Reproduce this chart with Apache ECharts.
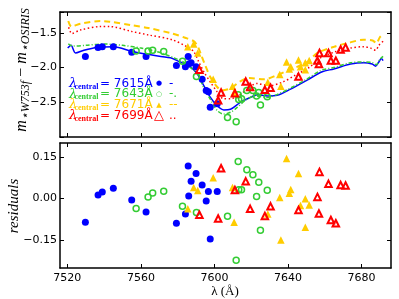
<!DOCTYPE html>
<html><head><meta charset="utf-8">
<script src="https://cdn.jsdelivr.net/npm/echarts@6/dist/echarts.min.js"></script>
<style>html,body{margin:0;padding:0;background:#fff}#c{width:399px;height:299px}</style>
</head><body><div id="c"></div>
<script>
// ---- data ----
const xTicks = [7520, 7560, 7600, 7640, 7680];
const yTicksTop = [-2.5, -2.0, -1.5];
const yTicksRes = [-0.15, 0, 0.15];
const legendLabels = ['7615Å', '7643Å', '7671Å', '7699Å'];

const lam615 = [7529.8, 7536.7, 7539.0, 7545.0, 7555.0, 7562.8, 7579.3, 7584.2, 7585.7, 7586.0, 7587.3, 7590.0, 7593.3, 7595.5, 7596.7, 7597.7, 7601.5];
const mag615 = [-1.84, -1.71, -1.70, -1.70, -1.78, -1.84, -1.97, -1.99, -1.84, -1.95, -1.93, -1.99, -2.17, -2.33, -2.35, -2.57, -2.52];
const res615 = [-0.085, 0.013, 0.024, 0.037, -0.005, -0.048, -0.089, -0.056, 0.117, 0.009, 0.062, 0.090, 0.049, -0.009, 0.025, -0.146, 0.025];

const lam643 = [7557.4, 7563.9, 7566.4, 7572.4, 7582.6, 7590.2, 7607.1, 7611.8, 7612.9, 7613.2, 7614.7, 7617.6, 7620.9, 7622.9, 7624.1, 7625.0, 7628.7];
const mag643 = [-1.76, -1.76, -1.75, -1.77, -1.91, -2.13, -2.72, -2.78, -2.39, -2.46, -2.45, -2.33, -2.33, -2.41, -2.36, -2.54, -2.42];
const res643 = [-0.036, 0.006, 0.020, 0.026, -0.028, -0.050, -0.064, -0.222, 0.133, 0.032, 0.032, 0.104, 0.086, 0.007, 0.059, -0.114, 0.030];

const lam671 = [7585.5, 7588.7, 7590.9, 7599.3, 7609.8, 7610.7, 7629.0, 7635.5, 7636.1, 7639.2, 7640.7, 7641.5, 7645.7, 7646.8, 7649.4, 7649.4, 7651.5];
const mag671 = [-1.70, -1.66, -1.79, -2.17, -2.27, -2.36, -2.21, -2.10, -2.27, -1.92, -2.02, -1.99, -1.89, -1.99, -1.93, -2.03, -1.90];
const res671 = [-0.037, 0.040, 0.029, 0.075, 0.040, -0.085, -0.056, 0.004, -0.149, 0.144, 0.019, 0.033, 0.090, -0.025, -0.001, -0.103, -0.023];

const lam699 = [7591.8, 7602.0, 7603.6, 7611.1, 7617.0, 7619.4, 7627.4, 7630.5, 7645.7, 7656.0, 7656.8, 7657.1, 7662.0, 7663.3, 7666.0, 7668.6, 7671.3];
const mag699 = [-2.03, -2.47, -2.36, -2.37, -2.20, -2.28, -2.32, -2.29, -2.13, -1.90, -1.95, -1.79, -1.79, -1.90, -1.90, -1.74, -1.71];
const res699 = [-0.058, -0.072, 0.109, 0.031, 0.062, -0.037, -0.063, -0.028, -0.041, 0.006, -0.054, 0.096, 0.053, -0.077, -0.089, 0.049, 0.047];

// model curves
const lineLam615 = [7520.2, 7522.0, 7524.4, 7529, 7536.2, 7545.2, 7555.2, 7563.4, 7576.1, 7579.7, 7586.9, 7590.6, 7594.2, 7597.8, 7601.5, 7605.1, 7608.7, 7614.1, 7619.6, 7623.2, 7628.7, 7634.1, 7641.4, 7650.4, 7658.6, 7664.9, 7674.0, 7681.3, 7685.8, 7687.6, 7689.4, 7690.7, 7691.7];
const lineMag615 = [-1.72, -1.68, -1.79, -1.75, -1.71, -1.70, -1.77, -1.81, -1.86, -1.90, -1.99, -2.09, -2.26, -2.43, -2.55, -2.61, -2.60, -2.50, -2.43, -2.39, -2.41, -2.40, -2.31, -2.18, -2.06, -2.02, -1.95, -1.93, -1.95, -1.98, -1.92, -1.87, -1.90];

const lineLam643 = [7520.5, 7523, 7530, 7540, 7550, 7560, 7570, 7578, 7583, 7587, 7591, 7594, 7598, 7601.5, 7605, 7609, 7612.5, 7617, 7622, 7628.7, 7634, 7641, 7650, 7658, 7665, 7674, 7681, 7686, 7688, 7690, 7691.7];
const lineMag643 = [-1.66, -1.69, -1.68, -1.66, -1.68, -1.72, -1.78, -1.86, -1.92, -2.00, -2.10, -2.28, -2.47, -2.62, -2.67, -2.64, -2.57, -2.47, -2.41, -2.43, -2.39, -2.30, -2.17, -2.04, -2.00, -1.93, -1.92, -1.93, -1.96, -1.88, -1.84];

const lineLam671 = [7520.5, 7522.2, 7527, 7538, 7543, 7555, 7564, 7577, 7584, 7588.7, 7591, 7592.5, 7595, 7597.8, 7601.5, 7604, 7608.7, 7614, 7619, 7627, 7634, 7640, 7650, 7656, 7665, 7672, 7681, 7686, 7688, 7690, 7691.7];
const lineMag671 = [-1.33, -1.41, -1.37, -1.33, -1.34, -1.39, -1.43, -1.51, -1.57, -1.62, -1.70, -1.80, -1.97, -2.14, -2.28, -2.33, -2.30, -2.20, -2.15, -2.17, -2.11, -2.04, -1.93, -1.79, -1.70, -1.65, -1.60, -1.61, -1.65, -1.56, -1.52];

const lineLam699 = [7520.7, 7522.5, 7527, 7538, 7543, 7555, 7564, 7577, 7585, 7588.7, 7591.5, 7594.2, 7597.8, 7601.5, 7605, 7608.7, 7612, 7617, 7623, 7630, 7637, 7644, 7652, 7657, 7666, 7674, 7681, 7685, 7687.6, 7689.4, 7691.7];
const lineMag699 = [-1.42, -1.51, -1.46, -1.41, -1.41, -1.48, -1.53, -1.60, -1.70, -1.77, -1.92, -2.06, -2.21, -2.35, -2.45, -2.45, -2.42, -2.33, -2.23, -2.26, -2.21, -2.11, -1.99, -1.87, -1.77, -1.72, -1.70, -1.72, -1.75, -1.68, -1.62];

// ---- styling ----
const BLUE = '#0000ff', GREEN = '#33cc33', YELLOW = '#ffcc00', RED = '#ff0000';
const zip = (a, b) => a.map((v, i) => [v, b[i]]);
const fmt = d => v => (v < 0 ? '\u2212' : '') + Math.abs(v).toFixed(d);
const tickFont = { color: '#000', fontSize: 11, fontFamily: 'DejaVu Sans' };
const AXLINE = { show: true, onZero: false, lineStyle: { color: '#000', width: 1.5 } };
const TICK = { show: true, inside: true, length: 4, lineStyle: { color: '#000', width: 1 } };

function xAx(grid, pos, labels) {
  return {
    type: 'value', gridIndex: grid, position: pos, min: 7516, max: 7696,
    axisLine: AXLINE,
    axisTick: Object.assign({ customValues: xTicks }, TICK),
    axisLabel: Object.assign({ show: labels, customValues: xTicks, margin: 5, formatter: v => String(v) }, tickFont),
    splitLine: { show: false }
  };
}
function yTop(pos) {
  return {
    type: 'value', gridIndex: 0, position: pos, min: -3.0, max: -1.2, interval: 0.5,
    axisLine: AXLINE, axisTick: TICK, axisLabel: { show: false },
    splitLine: { show: false }
  };
}
function yRes(pos, labels) {
  return {
    type: 'value', gridIndex: 1, position: pos, min: -0.25, max: 0.2,
    axisLine: AXLINE,
    axisTick: Object.assign({ customValues: yTicksRes }, TICK),
    axisLabel: Object.assign({ show: labels, customValues: yTicksRes, margin: 3, formatter: fmt(2) }, tickFont),
    splitLine: { show: false }
  };
}

const lineSeries = (lam, mag, color, type, width) => ({
  type: 'line', xAxisIndex: 0, yAxisIndex: 0, data: zip(lam, mag), showSymbol: false, symbol: 'none',
  smooth: 0.3, lineStyle: { color: color, width: width, type: type }, z: 2
});
const scat = (xi, yi, lam, v, sym, size, fill, border, bw) => ({
  type: 'scatter', xAxisIndex: xi, yAxisIndex: yi, data: zip(lam, v), symbol: sym, symbolSize: size,
  itemStyle: { color: fill, borderColor: border, borderWidth: bw, opacity: 1 }, z: 3
});

// ---- text helpers ----
const mctx = document.createElement('canvas').getContext('2d');
function tw(t, f) { mctx.font = f; return mctx.measureText(t).width; }
function txt(x, y, t, font, fill, align, rot, z) {
  const el = { type: 'text', x: x, y: y, silent: true, z: z || 10,
    style: { text: t, font: font, fill: fill, align: align || 'left', textAlign: align || 'left', verticalAlign: 'middle', textVerticalAlign: 'middle' } };
  if (rot) el.rotation = rot;
  return el;
}

const chart = echarts.init(document.getElementById('c'), null, { renderer: 'canvas' });
chart.setOption({
  animation: false,
  backgroundColor: '#fff',
  grid: [
    { left: 60, top: 12, width: 331, height: 125 },
    { left: 60, top: 143, width: 331, height: 125 }
  ],
  xAxis: [xAx(0, 'bottom', false), xAx(0, 'top', false), xAx(1, 'bottom', true), xAx(1, 'top', false)],
  yAxis: [yTop('left'), yTop('right'), yRes('left', true), yRes('right', false)],
  series: [
    lineSeries(lineLam615, lineMag615, BLUE, 'solid', 1.5),
    lineSeries(lineLam643, lineMag643, GREEN, [4, 2, 1, 2], 1.5),
    lineSeries(lineLam671, lineMag671, YELLOW, [6, 4], 2),
    lineSeries(lineLam699, lineMag699, RED, [1.5, 2.5], 1.5),
    scat(0, 0, lam615, mag615, 'circle', 7, BLUE, BLUE, 0),
    scat(0, 0, lam643, mag643, 'circle', 6, 'rgba(255,255,255,0)', GREEN, 1.5),
    scat(0, 0, lam671, mag671, 'triangle', 7.5, YELLOW, YELLOW, 0),
    scat(0, 0, lam699, mag699, 'triangle', 6.5, 'rgba(255,255,255,0)', RED, 2),
    scat(2, 2, lam615, res615, 'circle', 7, BLUE, BLUE, 0),
    scat(2, 2, lam643, res643, 'circle', 6, 'rgba(255,255,255,0)', GREEN, 1.5),
    scat(2, 2, lam671, res671, 'triangle', 7.5, YELLOW, YELLOW, 0),
    scat(2, 2, lam699, res699, 'triangle', 6.5, 'rgba(255,255,255,0)', RED, 2)
  ]
});

// ---- annotations ----
const graphics = [];

// y-label of the top panel: rotated pieces (main + subscripts), each placed on its own
const MAINF = 'italic 16px "Liberation Serif"';
const SUBF = 'italic 12px "Liberation Serif"';
const parts = [
  { t: 'm', f: MAINF, dy: 0 }, { t: '\u22c6W753f', f: SUBF, dy: 4 },
  { t: ' \u2212 ', f: '16px "Liberation Serif"', dy: 0 },
  { t: 'm', f: MAINF, dy: 0 }, { t: '\u22c6OSIRIS', f: SUBF, dy: 4 }
];
let total = 0; parts.forEach(p => { total += tw(p.t, p.f); });
let cum = 0;
const LX = 22, LY0 = 70 + total / 2;
parts.forEach(p => {
  graphics.push(txt(LX + p.dy, LY0 - cum, p.t, p.f, '#000', 'left', Math.PI / 2, 5));
  cum += tw(p.t, p.f);
});
graphics.push(txt(14, 206, 'residuals', 'italic 15px "Liberation Serif"', '#000', 'center', Math.PI / 2, 5));
graphics.push(txt(225, 292, '\u03bb (\u00c5)', '13px "Liberation Serif"', '#000', 'center'));

const legendColors = [BLUE, GREEN, YELLOW, RED];
const legendMarks = [['\u25cf', '7px "DejaVu Sans"'], ['\u25cb', '7px "DejaVu Sans"'], ['\u25b2', '7px "DejaVu Sans"'], ['\u25b3', '13px "DejaVu Sans"']];
const legendStyles = ['-', '-.', '--', '..'];
legendLabels.forEach((lab, i) => {
  const c = legendColors[i];
  const ym = 83.5 + 10.7 * i;
  graphics.push(txt(69, ym, '\u03bb', 'italic 13px "DejaVu Serif"', c));
  graphics.push(txt(74.5, ym + 3, 'central', 'bold 8px "Liberation Serif"', c));
  graphics.push(txt(100, ym, '= ' + lab, '12px "DejaVu Sans"', c));
  graphics.push(txt(159, ym, legendMarks[i][0], legendMarks[i][1], c, 'center'));
  graphics.push(txt(169, ym, legendStyles[i], '12px "DejaVu Sans"', c));
});

// tick labels of the top panel, placed with the axis scale (drawn last, on top)
yTicksTop.forEach(v => {
  const py = chart.convertToPixel({ yAxisIndex: 0 }, v);
  graphics.push(txt(57, py, fmt(1)(v), '11px "DejaVu Sans"', '#000', 'right', 0, 100));
});
chart.setOption({ graphic: graphics });
</script>
</body></html>
